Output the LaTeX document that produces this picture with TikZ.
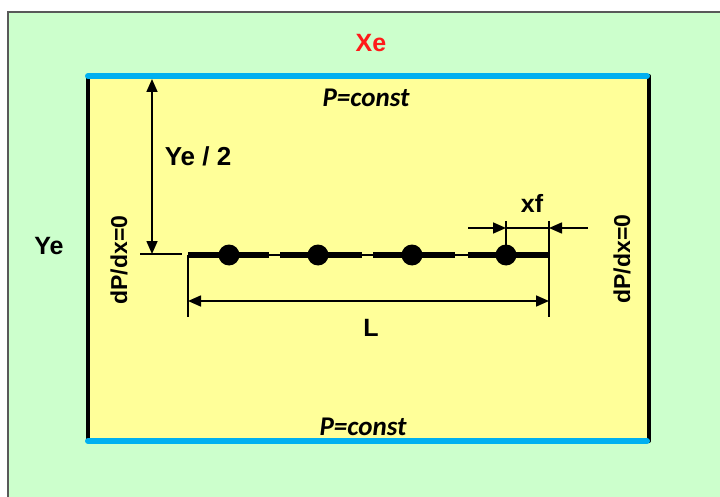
\documentclass[tikz,border=0pt]{standalone}
\usepackage{fontspec}
\setmainfont{Liberation Sans}
\newfontfamily\calibfont{Carlito}
\usetikzlibrary{arrows.meta}
\definecolor{bggreen}{HTML}{CCFFCC}
\definecolor{fieldyellow}{HTML}{FFFF99}
\definecolor{pblue}{HTML}{00B0F0}
\definecolor{xered}{HTML}{FF1A1A}
\begin{document}
\begin{tikzpicture}[x=1pt,y=-1pt,
  lbl/.style={font=\fontsize{25}{27}\selectfont\bfseries, inner sep=0pt},
  plbl/.style={font=\calibfont\fontsize{27}{29}\selectfont\bfseries\itshape, inner sep=0pt},
  dlbl/.style={font=\fontsize{23}{25}\selectfont\bfseries, inner sep=0pt, rotate=90},
  dim/.style={line width=1.6pt},
  tip/.style={-{Triangle[length=13pt,width=11pt]}},
  tips/.style={{Triangle[length=13pt,width=11pt]}-{Triangle[length=13pt,width=11pt]}},
  seg/.style={line width=6pt},
  dot/.style={circle, fill=black, inner sep=0pt, minimum size=21pt}
]
\useasboundingbox (0,0) rectangle (720,497);
\clip (0,0) rectangle (720,497);
\fill[white] (0,0) rectangle (720,497);
\filldraw[fill=bggreen, draw=black!65, line width=1.5pt] (8,12) rectangle (740,520);
% reservoir
\fill[fieldyellow] (88,76) rectangle (649,441);
\draw[line width=4pt, line cap=round] (88,76) -- (88,441);
\draw[line width=4pt, line cap=round] (649,76) -- (649,441);
\draw[pblue, line width=6pt, line cap=round] (88,76) -- (647,76);
\draw[pblue, line width=6pt, line cap=round] (88,441) -- (647,441);
% labels
\node[lbl, text=xered] (xe) at (371,43) {Xe};
\node[lbl] (ye) at (49,246) {Ye};
\node[lbl, font=\fontsize{26}{28}\selectfont\bfseries] (ye2) at (198,156) {Ye / 2};
\node[lbl] (L) at (371,328) {L};
\node[lbl] (xf) at (532,203) {xf};
\node[plbl] (ptop) at (366,98) {P=const};
\node[plbl] (pbot) at (363,427) {P=const};
\node[dlbl] (dl) at (119,260) {dP/dx=0};
\node[dlbl] (dr) at (622,259) {dP/dx=0};
% well
\coordinate (w0) at (188,255);
\coordinate (w1) at (549,255);
\draw[line width=1.6pt] (w0) -- (w1);
\draw[seg] (188,255) -- (269,255);
\draw[seg] (280,255) -- (362,255);
\draw[seg] (373,255) -- (455,255);
\draw[seg] (468,255) -- (549,255);
\node[dot] (f1) at (229,255) {};
\node[dot] (f2) at (318,255) {};
\node[dot] (f3) at (412,255) {};
\node[dot] (f4) at (506,255) {};
% Ye/2 dimension
\coordinate (ytop) at (152,79);
\coordinate (ybot) at (152,254);
\coordinate (tickL) at (140,254);
\coordinate (tickR) at (182,254);
\draw[dim, tips] (ybot) -- (ytop);
\draw[dim] (tickL) -- (tickR);
% L dimension
\coordinate (lA) at (188,317);
\coordinate (rA) at (549,317);
\coordinate (rT) at (549,221);
\coordinate (lD) at (188,301);
\coordinate (rD) at (549,301);
\draw[dim] (w0) -- (lA);
\draw[dim] (rT) -- (rA);
\draw[dim, tips] (lD) -- (rD);
% xf dimension
\coordinate (xfT) at (506,221);
\coordinate (xfa) at (468,228);
\coordinate (xfb) at (506,228);
\coordinate (xfc) at (549,228);
\coordinate (xfd) at (588,228);
\draw[dim] (xfT) -- (f4.center);
\draw[dim, tip] (xfa) -- (xfb);
\draw[dim] (xfb) -- (xfc);
\draw[dim, tip] (xfd) -- (xfc);
\end{tikzpicture}
\end{document}
